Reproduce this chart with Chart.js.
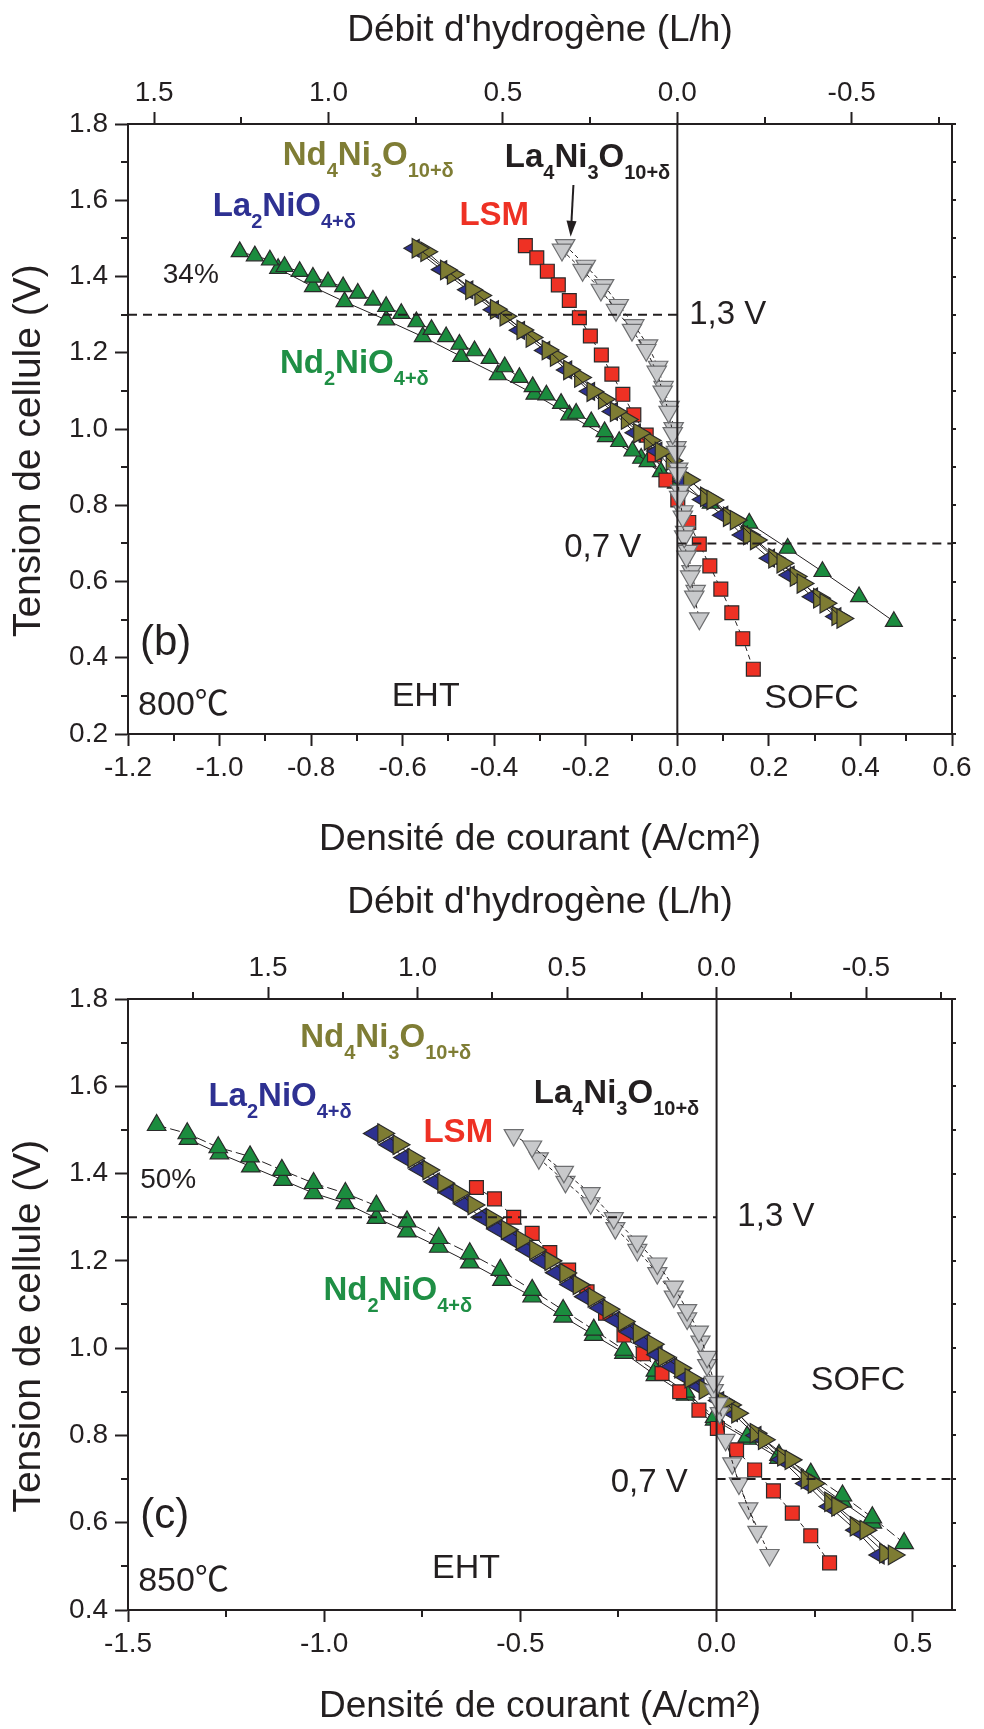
<!DOCTYPE html>
<html>
<head>
<meta charset="utf-8">
<title>Courbes i-V 800 et 850 C</title>
<script src="https://cdn.jsdelivr.net/npm/chart.js@4/dist/chart.umd.min.js"></script>
<style>
  html, body { margin: 0; padding: 0; background: #fff; }
  #wrap { position: relative; width: 984px; height: 1729px; }
  canvas { position: absolute; left: 0; }
</style>
</head>
<body>
<div id="wrap">
  <canvas id="chart800" width="984" height="870" style="top:0;width:984px;height:870px"></canvas>
  <canvas id="chart850" width="984" height="859" style="top:870px;width:984px;height:859px"></canvas>
</div>
<script>
const ink = '#231f20'
const fontFamily = "'Liberation Sans', Arial, 'Noto Sans CJK SC', sans-serif"
Chart.defaults.font.family = fontFamily
Chart.defaults.color = ink

/* colours */
let green = '#1b8c3e', greenText = '#1f8f45'
let olive = '#7e7c33', oliveText = '#7f7d35'
let blue = '#2d3190', blueText = '#2e3192'
let red = '#ee3124'
let grey = '#c8c9cb'

// 1 L/h of hydrogen corresponds to about 0.762 A/cm2 on these cells
let ampPerLitre = 0.762

/* ---------- (b) 800 C : ticks ---------- */
let j800Ticks = [-1.2, -1.0, -0.8, -0.6, -0.4, -0.2, 0.0, 0.2, 0.4, 0.6]
let j800Minor = [-1.1, -0.9, -0.7, -0.5, -0.3, -0.1, 0.1, 0.3, 0.5]
let v800Ticks = [0.2, 0.4, 0.6, 0.8, 1.0, 1.2, 1.4, 1.6, 1.8]
let v800Minor = [0.3, 0.5, 0.7, 0.9, 1.1, 1.3, 1.5, 1.7]
let flowTicks = [1.5, 1.0, 0.5, 0.0, -0.5]
let flowMinor = [1.75, 1.25, 0.75, 0.25, -0.25, -0.75]

/* ---------- (b) 800 C : data (current density A/cm2, cell voltage V) ---------- */
let nd2A800J = [-0.956, -0.923, -0.890, -0.858, -0.825, -0.796, -0.763, -0.730, -0.698, -0.665, -0.636, -0.603, -0.570, -0.537, -0.505, -0.476, -0.443, -0.410, -0.377, -0.345, -0.316, -0.286, -0.254, -0.221, -0.188, -0.159, -0.127, -0.098, -0.065, -0.036, -0.003]
let nd2A800V = [1.465, 1.454, 1.443, 1.426, 1.413, 1.398, 1.386, 1.373, 1.356, 1.338, 1.321, 1.303, 1.281, 1.261, 1.242, 1.222, 1.205, 1.185, 1.163, 1.135, 1.111, 1.089, 1.067, 1.041, 1.019, 0.993, 0.967, 0.942, 0.914, 0.888, 0.858]
let nd2B800J = [-0.872, -0.796, -0.727, -0.636, -0.556, -0.472, -0.392, -0.312, -0.236, -0.156, -0.079, -0.010, 0.073, 0.157, 0.241, 0.317, 0.397, 0.473]
let nd2B800V = [1.421, 1.373, 1.334, 1.286, 1.242, 1.190, 1.142, 1.091, 1.037, 0.980, 0.923, 0.862, 0.805, 0.753, 0.687, 0.626, 0.560, 0.495]

let nd4A800J = [-0.567, -0.505, -0.450, -0.396, -0.338, -0.283, -0.236, -0.185, -0.134, -0.083, -0.036, 0.026, 0.077, 0.128, 0.172, 0.230, 0.274, 0.324, 0.361]
let nd4A800V = [1.474, 1.417, 1.365, 1.314, 1.260, 1.207, 1.155, 1.098, 1.045, 0.989, 0.940, 0.866, 0.814, 0.761, 0.709, 0.648, 0.595, 0.543, 0.503]
let nd4B800J = [-0.548, -0.490, -0.430, -0.375, -0.318, -0.265, -0.212, -0.160, -0.110, -0.060, -0.012, 0.063, 0.113, 0.157, 0.212, 0.259, 0.310, 0.350]
let nd4B800V = [1.465, 1.405, 1.350, 1.296, 1.240, 1.190, 1.135, 1.078, 1.025, 0.970, 0.917, 0.822, 0.770, 0.722, 0.661, 0.613, 0.556, 0.510]

let la2800J = [-0.575, -0.515, -0.458, -0.402, -0.345, -0.290, -0.242, -0.192, -0.142, -0.092, -0.045, 0.012, 0.055, 0.099, 0.142, 0.201, 0.244, 0.295, 0.346]
let la2800V = [1.474, 1.418, 1.365, 1.313, 1.259, 1.206, 1.155, 1.099, 1.046, 0.990, 0.942, 0.862, 0.815, 0.774, 0.722, 0.661, 0.617, 0.560, 0.508]

let lsm800J = [-0.332, -0.307, -0.284, -0.260, -0.236, -0.214, -0.190, -0.166, -0.143, -0.119, -0.095, -0.068, -0.050, -0.025, 0.001, 0.025, 0.048, 0.071, 0.095, 0.119, 0.143, 0.166]
let lsm800V = [1.481, 1.449, 1.414, 1.378, 1.337, 1.292, 1.244, 1.194, 1.144, 1.091, 1.037, 0.984, 0.932, 0.866, 0.814, 0.755, 0.698, 0.641, 0.580, 0.518, 0.450, 0.370]

let la4A800J = [-0.252, -0.207, -0.167, -0.134, -0.099, -0.068, -0.045, -0.032, -0.019, -0.010, -0.003, 0.001, 0.004, 0.012, 0.015, 0.020, 0.028, 0.037, 0.048]
let la4A800V = [1.470, 1.417, 1.365, 1.312, 1.260, 1.207, 1.150, 1.098, 1.045, 0.989, 0.940, 0.884, 0.822, 0.770, 0.718, 0.665, 0.613, 0.560, 0.503]
let la4B800J = [-0.245, -0.200, -0.160, -0.128, -0.094, -0.064, -0.042, -0.030, -0.017, -0.008, -0.002, 0.002, 0.006, 0.013, 0.017, 0.023, 0.031, 0.040]
let la4B800V = [1.482, 1.428, 1.377, 1.325, 1.272, 1.219, 1.163, 1.110, 1.058, 1.002, 0.952, 0.896, 0.838, 0.784, 0.730, 0.680, 0.627, 0.575]

/* ---------- (c) 850 C : ticks ---------- */
let j850Ticks = [-1.5, -1.0, -0.5, 0.0, 0.5]
let j850Minor = [-1.25, -0.75, -0.25, 0.25]
let v850Ticks = [0.4, 0.6, 0.8, 1.0, 1.2, 1.4, 1.6, 1.8]
let v850Minor = [0.5, 0.7, 0.9, 1.1, 1.3, 1.5, 1.7]

/* ---------- (c) 850 C : data ---------- */
let nd2A850J = [-1.427, -1.349, -1.270, -1.189, -1.108, -1.027, -0.946, -0.867, -0.789, -0.708, -0.629, -0.551, -0.470, -0.391, -0.313, -0.236, -0.156, -0.079, -0.005, 0.078, 0.159, 0.240, 0.321, 0.397, 0.478]
let nd2A850V = [1.511, 1.492, 1.460, 1.439, 1.408, 1.378, 1.355, 1.326, 1.290, 1.252, 1.217, 1.179, 1.133, 1.087, 1.042, 0.996, 0.948, 0.900, 0.842, 0.797, 0.755, 0.712, 0.662, 0.612, 0.553]
let nd2B850J = [-1.346, -1.267, -1.187, -1.105, -1.027, -0.946, -0.867, -0.789, -0.708, -0.629, -0.547, -0.470, -0.391, -0.313, -0.236, -0.156, -0.079, -0.005, 0.078, 0.159, 0.240, 0.321, 0.397]
let nd2B850V = [1.479, 1.446, 1.416, 1.385, 1.355, 1.332, 1.298, 1.267, 1.232, 1.196, 1.156, 1.118, 1.072, 1.030, 0.989, 0.938, 0.893, 0.836, 0.792, 0.748, 0.700, 0.648, 0.600]

let nd4A850J = [-0.849, -0.810, -0.772, -0.734, -0.696, -0.657, -0.619, -0.572, -0.534, -0.496, -0.462, -0.423, -0.385, -0.351, -0.313, -0.275, -0.236, -0.198, -0.162, -0.134, -0.092, -0.066, -0.030, 0.019, 0.053, 0.121, 0.189, 0.248, 0.308, 0.380, 0.452]
let nd4A850V = [1.492, 1.466, 1.435, 1.408, 1.378, 1.355, 1.328, 1.297, 1.271, 1.248, 1.225, 1.200, 1.172, 1.145, 1.116, 1.089, 1.061, 1.034, 1.009, 0.980, 0.954, 0.931, 0.905, 0.877, 0.851, 0.790, 0.744, 0.690, 0.637, 0.583, 0.526]
let nd4B850J = [0.035, 0.100, 0.170, 0.230, 0.290, 0.355, 0.430]
let nd4B850V = [0.870, 0.805, 0.752, 0.700, 0.648, 0.592, 0.530]

let la2850J = [-0.874, -0.835, -0.797, -0.758, -0.720, -0.682, -0.644, -0.600, -0.560, -0.522, -0.486, -0.448, -0.410, -0.374, -0.336, -0.298, -0.260, -0.222, -0.186, -0.152, -0.115, -0.082, -0.045, 0.005, 0.040, 0.100, 0.165, 0.227, 0.287, 0.355, 0.414]
let la2850V = [1.492, 1.466, 1.437, 1.410, 1.381, 1.356, 1.330, 1.300, 1.273, 1.250, 1.226, 1.200, 1.173, 1.146, 1.118, 1.092, 1.064, 1.037, 1.012, 0.985, 0.958, 0.935, 0.912, 0.880, 0.852, 0.800, 0.745, 0.690, 0.637, 0.583, 0.526]

let lsm850J = [-0.612, -0.566, -0.517, -0.470, -0.425, -0.377, -0.330, -0.283, -0.236, -0.187, -0.139, -0.094, -0.045, 0.002, 0.051, 0.097, 0.145, 0.193, 0.240, 0.288]
let lsm850V = [1.368, 1.342, 1.300, 1.263, 1.219, 1.179, 1.129, 1.080, 1.030, 0.987, 0.942, 0.900, 0.858, 0.816, 0.767, 0.721, 0.673, 0.622, 0.570, 0.508]

let la4A850J = [-0.517, -0.470, -0.389, -0.321, -0.262, -0.202, -0.151, -0.109, -0.075, -0.045, -0.024, -0.007, 0.006, 0.023, 0.057, 0.104]
let la4A850V = [1.488, 1.462, 1.404, 1.355, 1.298, 1.244, 1.194, 1.141, 1.087, 1.038, 0.980, 0.923, 0.874, 0.790, 0.690, 0.579]
let la4B850J = [-0.453, -0.385, -0.321, -0.258, -0.202, -0.151, -0.109, -0.075, -0.041, -0.024, -0.007, 0.008, 0.040, 0.081, 0.135]
let la4B850V = [1.435, 1.381, 1.332, 1.275, 1.225, 1.172, 1.118, 1.068, 1.015, 0.961, 0.904, 0.851, 0.736, 0.633, 0.526]

/* text placed on the plots, anchored in data units (left, baseline) */
let formulaNd4 = ['Nd', '4', 'Ni', '3', 'O', '10+δ']
let formulaLa2 = ['La', '2', 'NiO', '4+δ']
let formulaNd2 = ['Nd', '2', 'NiO', '4+δ']
let formulaLa4 = ['La', '4', 'Ni', '3', 'O', '10+δ']

let notes800 = [
  { x: -0.862, y: 1.692, parts: formulaNd4, color: oliveText, bold: true },
  { x: -1.015, y: 1.559, parts: formulaLa2, color: blueText, bold: true },
  { x: -0.868, y: 1.148, parts: formulaNd2, color: greenText, bold: true },
  { x: -0.476, y: 1.535, parts: ['LSM'], color: red, bold: true },
  { x: -0.377, y: 1.688, parts: formulaLa4, color: ink, bold: true },
  { x: -1.124, y: 1.382, parts: ['34%'], size: 28 },
  { x: 0.026, y: 1.275, parts: ['1,3 V'], size: 33 },
  { x: -0.247, y: 0.663, parts: ['0,7 V'], size: 33 },
  { x: 0.190, y: 0.267, parts: ['SOFC'], size: 34 },
  { x: -0.624, y: 0.273, parts: ['EHT'], size: 34 },
  { x: -1.174, y: 0.407, parts: ['(b)'], size: 42 },
  { x: -1.178, y: 0.250, parts: ['800℃'], size: 34 }
]
let arrow800 = { from: [-0.227, 1.640], to: [-0.233, 1.504] }

let notes850 = [
  { x: -1.061, y: 1.691, parts: formulaNd4, color: oliveText, bold: true },
  { x: -1.295, y: 1.555, parts: formulaLa2, color: blueText, bold: true },
  { x: -1.002, y: 1.110, parts: formulaNd2, color: greenText, bold: true },
  { x: -0.747, y: 1.473, parts: ['LSM'], color: red, bold: true },
  { x: -0.466, y: 1.562, parts: formulaLa4, color: ink, bold: true },
  { x: -1.469, y: 1.366, parts: ['50%'], size: 28 },
  { x: 0.053, y: 1.280, parts: ['1,3 V'], size: 33 },
  { x: -0.270, y: 0.671, parts: ['0,7 V'], size: 33 },
  { x: 0.240, y: 0.904, parts: ['SOFC'], size: 34 },
  { x: -0.725, y: 0.473, parts: ['EHT'], size: 34 },
  { x: -1.469, y: 0.587, parts: ['(c)'], size: 42 },
  { x: -1.474, y: 0.444, parts: ['850℃'], size: 34 }
]


function pts(js, vs) {
  return js.map((j, i) => ({ x: j, y: vs[i] }))
}

function series(js, vs, style) {
  return Object.assign({
    data: pts(js, vs),
    showLine: true,
    borderColor: ink,
    borderWidth: 1,
    pointBorderColor: '#2a2a2a',
    pointBorderWidth: 1.2
  }, style)
}

// dashed / solid guide lines, drawn through the scales like any dataset
function guide(points, dash) {
  return {
    data: points,
    showLine: true,
    borderColor: ink,
    borderWidth: 2,
    borderDash: dash,
    pointRadius: 0
  }
}

function fmt(v) {
  return (Math.abs(v) < 1e-9 ? 0 : v).toFixed(1)
}

function drawNote(ctx, x, y, n) {
  let size = n.size || 33
  ctx.fillStyle = n.color || ink
  ctx.textAlign = 'left'
  ctx.textBaseline = 'alphabetic'
  let cx = x
  n.parts.forEach((p, i) => {
    let sub = i % 2 === 1
    ctx.font = (n.bold ? 'bold ' : '') + (sub ? 20 : size) + 'px ' + fontFamily
    ctx.fillText(p, cx, sub ? y + 12 : y)
    cx += ctx.measureText(p).width
  })
}

/* minor ticks, right-hand ticks, labels and the arrow */
let decorPlugin = {
  id: 'decor',
  afterDraw(chart, args, opts) {
    let ctx = chart.ctx
    let sx = chart.scales.x, sy = chart.scales.y, st = chart.scales.x2
    let a = chart.chartArea
    ctx.save()
    ctx.strokeStyle = ink
    ctx.lineWidth = 2
    ctx.beginPath()
    opts.minorX.forEach(v => {
      let px = Math.round(sx.getPixelForValue(v))
      ctx.moveTo(px, a.bottom); ctx.lineTo(px, a.bottom + 7)
    })
    opts.minorY.forEach(v => {
      let py = Math.round(sy.getPixelForValue(v))
      ctx.moveTo(a.left, py); ctx.lineTo(a.left - 7, py)
    })
    opts.minorTop.forEach(v => {
      if (v < st.min || v > st.max) return
      let px = Math.round(st.getPixelForValue(v))
      ctx.moveTo(px, a.top); ctx.lineTo(px, a.top - 7)
    })
    opts.majorY.concat(opts.minorY).forEach(v => {
      let py = Math.round(sy.getPixelForValue(v))
      ctx.moveTo(a.right, py); ctx.lineTo(a.right + 4, py)
    })
    ctx.stroke()

    opts.notes.forEach(n => drawNote(ctx, sx.getPixelForValue(n.x), sy.getPixelForValue(n.y), n))

    if (opts.arrow) {
      let x1 = sx.getPixelForValue(opts.arrow.from[0]), y1 = sy.getPixelForValue(opts.arrow.from[1])
      let x2 = sx.getPixelForValue(opts.arrow.to[0]), y2 = sy.getPixelForValue(opts.arrow.to[1])
      let ang = Math.atan2(y2 - y1, x2 - x1)
      ctx.beginPath()
      ctx.moveTo(x1, y1)
      ctx.lineTo(x2 - 12 * Math.cos(ang), y2 - 12 * Math.sin(ang))
      ctx.stroke()
      ctx.fillStyle = ink
      ctx.beginPath()
      ctx.moveTo(x2, y2)
      ctx.lineTo(x2 - 16 * Math.cos(ang) + 5 * Math.sin(ang), y2 - 16 * Math.sin(ang) - 5 * Math.cos(ang))
      ctx.lineTo(x2 - 16 * Math.cos(ang) - 5 * Math.sin(ang), y2 - 16 * Math.sin(ang) + 5 * Math.cos(ang))
      ctx.closePath()
      ctx.fill()
    }
    ctx.restore()
  }
}

function makeChart(canvasId, c) {
  let flowMin = -c.jMax / ampPerLitre
  let flowMax = -c.jMin / ampPerLitre
  let tickFont = { size: 28 }
  let titleFont = { size: 37 }
  let gridOpts = { drawOnChartArea: false, drawTicks: true, tickLength: 12, tickWidth: 2, tickColor: ink }
  let borderOpts = { display: true, width: 2, color: ink }

  return new Chart(document.getElementById(canvasId), {
    type: 'scatter',
    data: { datasets: c.datasets },
    options: {
      responsive: false,
      animation: false,
      devicePixelRatio: 1,
      layout: { padding: { left: 0, right: 32, top: 0, bottom: 0 } },
      plugins: {
        legend: { display: false },
        tooltip: { enabled: false },
        decor: {
          minorX: c.jMinor, minorY: c.vMinor, majorY: c.vTicks,
          minorTop: flowMinor, notes: c.notes, arrow: c.arrow
        }
      },
      scales: {
        x: {
          type: 'linear', position: 'bottom', min: c.jMin, max: c.jMax,
          afterBuildTicks: s => { s.ticks = c.jTicks.map(v => ({ value: v })) },
          afterFit: s => { s.height = c.bottomH },
          ticks: { font: tickFont, color: ink, padding: 5, maxRotation: 0, autoSkip: false, callback: fmt },
          grid: gridOpts, border: borderOpts,
          title: { display: true, text: 'Densité de courant (A/cm²)', font: titleFont, color: ink,
                   padding: { top: 0, bottom: c.bottomTitlePad } }
        },
        x2: {
          type: 'linear', position: 'top', min: flowMin, max: flowMax, reverse: true,
          afterBuildTicks: s => { s.ticks = flowTicks.map(v => ({ value: v })) },
          afterFit: s => { s.height = c.topH },
          ticks: { font: tickFont, color: ink, padding: 2, maxRotation: 0, autoSkip: false, callback: fmt },
          grid: gridOpts, border: borderOpts,
          title: { display: true, text: "Débit d'hydrogène (L/h)", font: titleFont, color: ink,
                   padding: { top: c.topTitlePad, bottom: 0 } }
        },
        y: {
          type: 'linear', position: 'left', min: c.vMin, max: c.vMax,
          afterBuildTicks: s => { s.ticks = c.vTicks.map(v => ({ value: v })) },
          afterFit: s => { s.width = 128 },
          ticks: { font: tickFont, color: ink, padding: 7, autoSkip: false, callback: fmt },
          grid: Object.assign({}, gridOpts, { tickLength: 13 }), border: borderOpts,
          title: { display: true, text: 'Tension de cellule (V)    ', font: { size: 39 }, color: ink,
                   padding: { top: 6, bottom: 0 } }
        },
        y2: {
          type: 'linear', position: 'right', min: c.vMin, max: c.vMax,
          afterFit: s => { s.width = 0 },
          ticks: { display: false },
          grid: { display: false },
          border: borderOpts
        }
      }
    },
    plugins: [decorPlugin]
  })
}

/* marker looks, sizes in px */
function looks(sz) {
  return {
    grey: { pointStyle: 'triangle', pointRotation: 180, pointRadius: sz.grey, pointBackgroundColor: grey, pointBorderColor: '#6d6e70', borderDash: [4, 3] },
    olive: { pointStyle: 'triangle', pointRotation: 90, pointRadius: sz.olive, pointBackgroundColor: olive },
    blue: { pointStyle: 'triangle', pointRotation: -90, pointRadius: sz.blue, pointBackgroundColor: blue },
    red: { pointStyle: 'rect', pointRadius: sz.red, pointBackgroundColor: red, borderDash: [5, 4] },
    green: { pointStyle: 'triangle', pointRadius: sz.green, pointBackgroundColor: green }
  }
}

let s800 = looks({ grey: 11.2, olive: 11.2, blue: 10.2, red: 9.8, green: 9.8 })
makeChart('chart800', {
  jMin: -1.2, jMax: 0.6, vMin: 0.2, vMax: 1.8,
  jTicks: j800Ticks, jMinor: j800Minor, vTicks: v800Ticks, vMinor: v800Minor,
  topH: 124, bottomH: 136, topTitlePad: 9, bottomTitlePad: 8,
  notes: notes800, arrow: arrow800,
  datasets: [
    guide([{ x: 0, y: 0.2 }, { x: 0, y: 1.8 }], []),
    guide([{ x: -1.2, y: 1.3 }, { x: 0, y: 1.3 }], [9, 6]),
    guide([{ x: 0, y: 0.7 }, { x: 0.6, y: 0.7 }], [9, 6]),
    series(la4A800J, la4A800V, s800.grey),
    series(la4B800J, la4B800V, s800.grey),
    series(nd4A800J, nd4A800V, s800.olive),
    series(nd4B800J, nd4B800V, s800.olive),
    series(la2800J, la2800V, s800.blue),
    series(lsm800J, lsm800V, s800.red),
    series(nd2A800J, nd2A800V, s800.green),
    series(nd2B800J, nd2B800V, s800.green)
  ]
})

let s850 = looks({ grey: 11, olive: 11.2, blue: 10.2, red: 9.8, green: 10.7 })
makeChart('chart850', {
  jMin: -1.5, jMax: 0.6, vMin: 0.4, vMax: 1.8,
  jTicks: j850Ticks, jMinor: j850Minor, vTicks: v850Ticks, vMinor: v850Minor,
  topH: 129, bottomH: 119, topTitlePad: 11, bottomTitlePad: 0,
  notes: notes850, arrow: null,
  datasets: [
    guide([{ x: 0, y: 0.4 }, { x: 0, y: 1.8 }], []),
    guide([{ x: -1.5, y: 1.3 }, { x: 0, y: 1.3 }], [9, 6]),
    guide([{ x: 0, y: 0.7 }, { x: 0.6, y: 0.7 }], [9, 6]),
    series(la4A850J, la4A850V, s850.grey),
    series(la4B850J, la4B850V, s850.grey),
    series(nd4A850J, nd4A850V, s850.olive),
    series(nd4B850J, nd4B850V, s850.olive),
    series(la2850J, la2850V, s850.blue),
    series(lsm850J, lsm850V, s850.red),
    series(nd2A850J, nd2A850V, Object.assign({}, s850.green, { borderDash: [10, 4] })),
    series(nd2B850J, nd2B850V, s850.green)
  ]
})
</script>
</body>
</html>
